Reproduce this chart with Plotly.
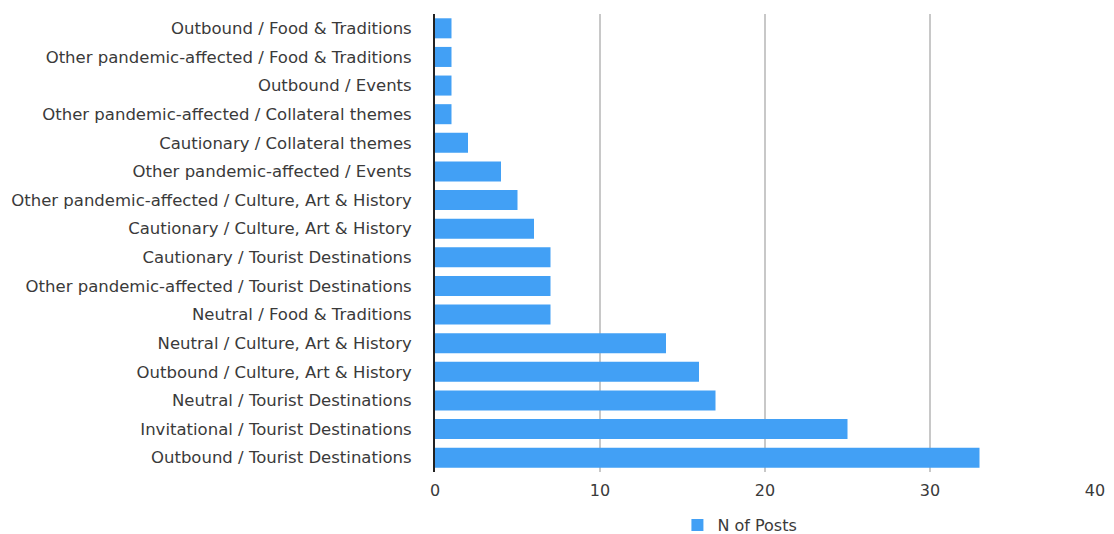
import plotly.graph_objects as go

# Theme/category pairs, listed top to bottom as they appear on the axis
categories = [
    "Outbound / Food & Traditions",
    "Other pandemic-affected / Food & Traditions",
    "Outbound / Events",
    "Other pandemic-affected / Collateral themes",
    "Cautionary / Collateral themes",
    "Other pandemic-affected / Events",
    "Other pandemic-affected / Culture, Art & History",
    "Cautionary / Culture, Art & History",
    "Cautionary / Tourist Destinations",
    "Other pandemic-affected / Tourist Destinations",
    "Neutral / Food & Traditions",
    "Neutral / Culture, Art & History",
    "Outbound / Culture, Art & History",
    "Neutral / Tourist Destinations",
    "Invitational / Tourist Destinations",
    "Outbound / Tourist Destinations",
]
n_posts = [1, 1, 1, 1, 2, 4, 5, 6, 7, 7, 7, 14, 16, 17, 25, 33]
x_ticks = [0, 10, 20, 30, 40]

BAR = "#42a0f5"
FONT = "DejaVu Sans, Liberation Sans, Arial, sans-serif"
TXT = "#3a3a3a"

fig = go.Figure(
    go.Bar(
        y=categories,
        x=n_posts,
        orientation="h",
        name="N of Posts",
        marker=dict(color=BAR, line=dict(width=0)),
        showlegend=True,
    )
)

fig.update_layout(
    width=1114,
    height=534,
    margin=dict(l=435, r=19, t=14, b=62, autoexpand=False),
    paper_bgcolor="white",
    plot_bgcolor="white",
    bargap=0.3,
    font=dict(family=FONT, size=16, color=TXT),
    showlegend=True,
    legend=dict(
        orientation="h",
        x=0.462,
        xanchor="center",
        y=-0.116,
        yanchor="middle",
        font=dict(size=16, color=TXT),
    ),
)

fig.update_xaxes(
    range=[0, 40],
    tickvals=x_ticks,
    showgrid=True,
    gridcolor="#c8c8c8",
    gridwidth=1.5,
    zeroline=False,
    showline=False,
    ticks="",
    tickfont=dict(size=16, color=TXT),
    ticklabelstandoff=7,
    automargin=False,
    fixedrange=True,
)

fig.update_yaxes(
    categoryorder="array",
    categoryarray=categories[::-1],
    range=[-0.5, len(categories) - 0.5],
    showgrid=False,
    showline=True,
    linecolor="#222222",
    linewidth=2,
    ticks="",
    tickfont=dict(size=16.5, color=TXT),
    ticklabelstandoff=18,
    automargin=False,
    fixedrange=True,
)

fig.write_html("out.html")
